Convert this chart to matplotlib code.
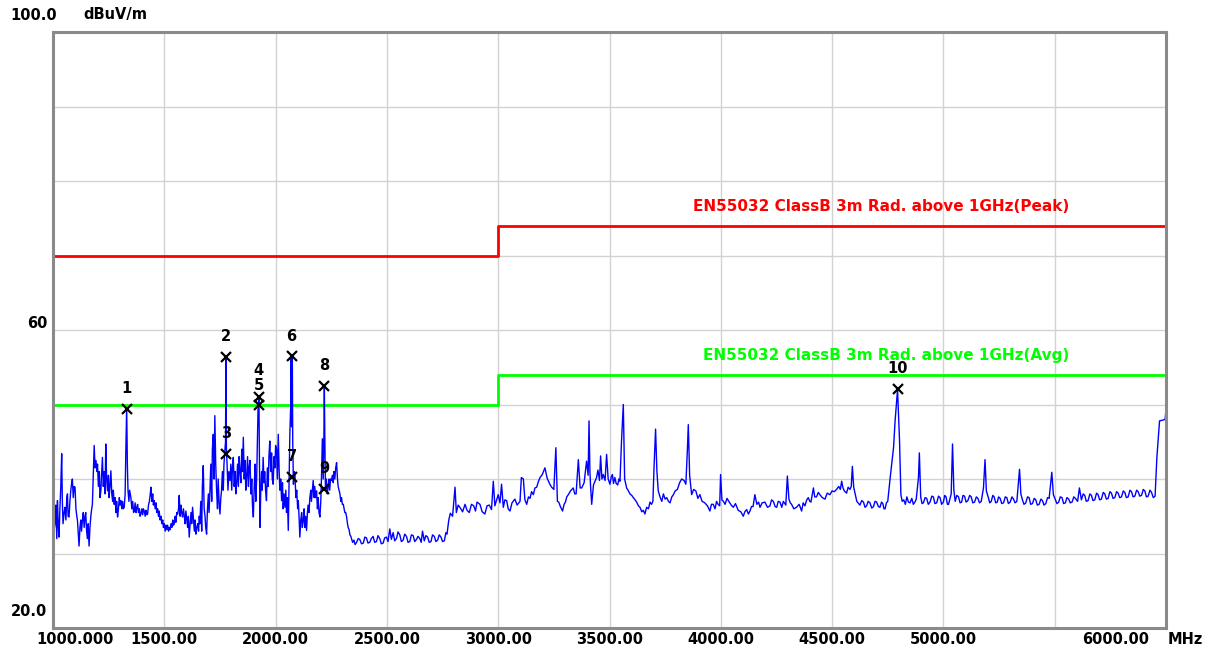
import matplotlib
matplotlib.use("Agg")
import matplotlib.pyplot as plt

trace_a = [
    (1000, 35.3), (1004, 33.0), (1009, 34.0), (1013, 36.5), (1017, 32.0), (1020, 37.1), (1024, 33.5),
    (1027, 32.2), (1031, 36.0), (1035, 39.0), (1039, 43.4), (1042, 37.0), (1045, 34.0), (1050, 35.5),
    (1054, 36.2), (1058, 34.5), (1062, 37.5), (1065, 38.0), (1068, 35.0), (1072, 34.9), (1076, 37.0),
    (1080, 38.5), (1084, 39.5), (1087, 40.0), (1091, 37.5), (1095, 39.0), (1099, 38.9), (1103, 36.0),
    (1107, 35.0), (1110, 34.4), (1114, 32.5), (1117, 31.0), (1121, 33.5), (1125, 34.5), (1128, 33.0),
    (1132, 34.4), (1136, 35.5), (1140, 33.5), (1144, 35.0), (1147, 35.5), (1151, 33.0), (1155, 32.0),
    (1158, 34.0), (1162, 31.0), (1166, 33.5), (1170, 35.0), (1173, 35.8), (1177, 36.6), (1181, 40.5),
    (1185, 44.5), (1189, 41.5), (1193, 42.5), (1197, 41.0), (1200, 42.0), (1204, 39.0), (1208, 41.0),
    (1211, 37.5), (1215, 38.4), (1218, 40.5), (1222, 42.9), (1226, 39.0), (1230, 41.0), (1234, 38.0),
    (1237, 44.7), (1241, 40.0), (1245, 38.4), (1249, 40.5), (1252, 37.5), (1256, 39.0), (1260, 41.1),
    (1264, 38.0), (1268, 37.0), (1271, 38.5), (1275, 36.6), (1279, 37.5), (1283, 35.5), (1286, 37.0),
    (1290, 34.9), (1294, 36.0), (1298, 37.5), (1301, 36.5), (1305, 37.1), (1309, 36.0), (1313, 37.0),
    (1316, 36.0), (1320, 36.2), (1324, 38.0), (1327, 43.4), (1331, 49.6), (1334, 42.0), (1337, 38.4),
    (1341, 37.0), (1344, 38.5), (1350, 37.5), (1354, 36.0), (1358, 37.0), (1362, 35.5), (1365, 35.7),
    (1369, 36.8), (1373, 35.5), (1377, 36.2), (1380, 36.6), (1384, 35.5), (1388, 36.0), (1391, 35.0),
    (1395, 35.3), (1399, 36.0), (1403, 35.2), (1406, 36.0), (1410, 35.7), (1414, 35.0), (1418, 35.8),
    (1421, 35.2), (1425, 35.3), (1429, 36.5), (1433, 37.0), (1437, 38.0), (1440, 38.9), (1444, 37.0),
    (1448, 38.0), (1451, 36.5), (1455, 37.1), (1459, 36.0), (1463, 36.8), (1466, 35.5), (1470, 36.0),
    (1474, 35.0), (1477, 35.7), (1481, 34.5), (1485, 35.0), (1489, 34.0), (1493, 34.5), (1496, 33.5),
    (1500, 34.0), (1504, 33.0), (1508, 33.8), (1511, 33.2), (1515, 33.8), (1519, 33.0), (1522, 33.5),
    (1526, 33.2), (1530, 34.0), (1534, 33.5), (1538, 34.5), (1541, 33.8), (1545, 34.0), (1549, 35.0),
    (1552, 34.2), (1556, 35.5), (1560, 35.3), (1564, 36.0), (1567, 37.8), (1571, 35.0), (1575, 36.5),
    (1578, 35.5), (1582, 34.9), (1586, 36.0), (1590, 35.0), (1593, 34.0), (1597, 35.7), (1601, 34.5),
    (1605, 33.5), (1608, 35.0), (1612, 32.2), (1616, 34.0), (1620, 35.5), (1623, 34.0), (1627, 36.2),
    (1631, 34.5), (1635, 33.0), (1638, 34.5), (1642, 32.6), (1646, 33.5), (1650, 34.0), (1654, 33.0),
    (1657, 35.0),
]
trace_b = [
    (1660, 34.0), (1664, 37.0), (1668, 33.0), (1671, 39.0), (1675, 41.8), (1679, 36.0), (1683, 35.0),
    (1686, 33.5), (1690, 32.6), (1694, 36.0), (1698, 38.0), (1701, 35.5), (1705, 38.4), (1709, 42.0),
    (1713, 37.0), (1716, 44.0), (1720, 46.0), (1724, 40.0), (1727, 48.5), (1731, 42.0), (1735, 38.4),
    (1739, 36.0), (1742, 40.0), (1746, 37.0), (1750, 35.3), (1754, 37.5), (1757, 38.4), (1761, 41.0),
    (1765, 38.5), (1768, 42.0), (1772, 43.8), (1775, 45.0), (1777, 56.4), (1779, 44.0), (1782, 42.0),
    (1786, 38.5), (1790, 41.0), (1795, 39.8), (1799, 42.0), (1803, 38.5), (1806, 41.5), (1810, 42.9),
    (1814, 39.0), (1818, 41.0), (1821, 38.0), (1825, 39.3), (1829, 42.0), (1833, 39.0), (1836, 43.0),
    (1840, 41.1), (1844, 39.5), (1848, 44.0), (1851, 41.0), (1855, 45.6), (1859, 40.0), (1863, 42.5),
    (1866, 38.5), (1870, 40.2), (1874, 43.0), (1878, 39.0), (1881, 41.5), (1885, 42.5), (1889, 38.0),
    (1893, 40.0), (1896, 36.5), (1900, 34.9), (1904, 39.0), (1908, 42.0), (1911, 37.0), (1915, 40.2),
    (1918, 45.0), (1921, 49.2), (1925, 51.0), (1927, 44.0), (1930, 33.5), (1933, 38.0), (1937, 41.0),
    (1940, 38.5), (1944, 42.9), (1948, 39.5), (1951, 41.0), (1955, 38.5), (1959, 37.1), (1963, 41.5),
    (1967, 39.0), (1970, 43.0), (1974, 45.1), (1978, 41.0), (1982, 43.5), (1985, 40.0), (1989, 39.3),
    (1993, 43.0), (1997, 41.5), (2000, 44.5), (2004, 44.0), (2008, 40.0), (2012, 46.0), (2016, 41.0),
    (2019, 38.5), (2023, 40.0), (2027, 37.1), (2031, 39.5), (2034, 36.0), (2038, 38.0), (2042, 36.2),
    (2046, 38.5), (2049, 35.5), (2053, 37.5), (2057, 33.1), (2061, 40.0), (2064, 46.0), (2068, 50.0),
    (2070, 56.5), (2072, 47.0), (2075, 56.5), (2077, 45.0), (2080, 39.3), (2084, 41.0), (2087, 40.5),
    (2091, 37.5), (2095, 38.5), (2099, 36.0), (2102, 37.1), (2106, 34.5), (2109, 32.2), (2113, 34.5),
    (2117, 35.5), (2120, 33.5), (2124, 34.4), (2128, 36.0), (2131, 33.5), (2135, 35.0), (2139, 33.1),
    (2143, 35.5), (2146, 36.5), (2150, 35.5), (2154, 37.5), (2158, 38.5), (2161, 37.0), (2165, 38.5),
    (2169, 39.8), (2173, 37.5), (2176, 39.0), (2180, 37.5), (2184, 38.4), (2188, 36.0), (2191, 37.5),
    (2195, 35.5), (2199, 34.9), (2203, 37.0), (2206, 40.0), (2210, 45.4), (2214, 40.0), (2217, 46.0),
    (2219, 52.5), (2221, 46.0), (2224, 38.6), (2228, 40.0), (2232, 38.0), (2236, 38.9), (2240, 40.0),
    (2243, 38.5), (2247, 40.0), (2251, 39.8), (2255, 40.5), (2259, 39.5), (2262, 41.0), (2266, 40.0),
    (2270, 41.5), (2274, 42.2), (2278, 40.0), (2281, 39.0), (2285, 38.5), (2289, 38.0), (2293, 37.0),
    (2296, 37.5), (2300, 36.6), (2304, 36.6), (2308, 36.0), (2311, 35.5), (2315, 35.5), (2319, 34.9),
    (2323, 34.0), (2326, 33.5), (2330, 33.2), (2334, 32.5), (2338, 32.3), (2341, 32.0), (2346, 31.5),
    (2352, 31.8), (2357, 31.2),
]
trace_c = [
    (2364, 31.5), (2371, 32.0), (2378, 31.9), (2386, 31.3), (2394, 31.4), (2401, 32.2), (2408, 32.1),
    (2415, 31.4), (2423, 31.5), (2430, 32.0), (2438, 32.3), (2445, 31.5), (2453, 31.6), (2460, 32.4),
    (2468, 32.0), (2475, 31.3), (2483, 31.4), (2490, 32.1), (2498, 32.2), (2505, 31.6), (2513, 33.3),
    (2520, 31.9), (2528, 32.8), (2535, 31.7), (2543, 32.0), (2550, 32.9), (2558, 32.5), (2565, 31.6),
    (2573, 31.8), (2580, 32.6), (2588, 32.3), (2595, 31.5), (2603, 31.6), (2610, 32.5), (2618, 32.4),
    (2625, 31.6), (2633, 31.9), (2640, 32.3), (2648, 32.0), (2654, 31.5), (2660, 33.0), (2668, 31.7),
    (2675, 32.4), (2683, 32.2), (2690, 31.5), (2698, 31.6), (2705, 32.5), (2713, 32.3), (2720, 31.6),
    (2728, 31.8), (2735, 32.5), (2743, 32.2), (2750, 31.6), (2758, 31.7), (2765, 32.8), (2770, 32.6),
    (2778, 34.5), (2785, 35.4), (2795, 35.0), (2806, 38.9), (2812, 35.5), (2820, 36.5), (2828, 36.2),
    (2840, 35.6), (2851, 36.6), (2860, 35.8), (2870, 35.5), (2880, 36.6), (2890, 36.4), (2898, 35.7),
    (2905, 36.9),
]
trace_d = [
    (2918, 36.6), (2928, 35.6), (2940, 35.3), (2950, 36.4), (2960, 36.5), (2970, 35.9), (2978, 39.7),
    (2985, 36.4), (3000, 37.9), (3008, 36.8), (3015, 39.3), (3023, 36.2), (3030, 37.2), (3038, 37.1),
    (3045, 36.0), (3053, 35.7), (3062, 36.8), (3075, 37.3), (3085, 36.5), (3098, 37.0), (3104, 40.2),
    (3113, 40.0), (3120, 37.2), (3128, 36.6), (3136, 37.6), (3143, 37.4), (3150, 38.3), (3158, 37.9),
    (3165, 38.8), (3173, 38.9), (3180, 39.6), (3188, 40.2), (3198, 40.6), (3210, 41.5), (3220, 40.1),
    (3232, 39.3), (3240, 38.9), (3250, 38.6), (3259, 44.2), (3266, 37.0), (3272, 36.9), (3278, 36.4),
    (3284, 36.0), (3289, 35.7), (3296, 36.6), (3302, 36.9), (3308, 37.6), (3315, 37.9), (3325, 38.4),
    (3337, 38.8), (3344, 38.0), (3350, 38.0), (3360, 42.6), (3368, 38.8), (3375, 38.8), (3386, 39.5),
    (3397, 42.4), (3404, 40.5), (3408, 47.8), (3412, 41.0), (3415, 39.0), (3420, 36.6), (3428, 39.2),
    (3435, 39.7), (3442, 40.2), (3448, 41.2), (3455, 39.8), (3460, 43.1), (3466, 40.0), (3472, 40.6),
    (3480, 39.8), (3487, 43.3), (3494, 40.0), (3502, 39.3), (3508, 40.3), (3513, 40.6), (3518, 39.4),
    (3524, 40.2), (3530, 39.4), (3537, 39.2), (3542, 40.0), (3547, 39.7), (3554, 45.1), (3562, 50.0),
    (3568, 40.0), (3577, 38.8), (3585, 38.4), (3592, 38.0), (3600, 37.8), (3607, 37.5), (3615, 37.2),
    (3622, 36.9), (3630, 36.4), (3637, 36.2), (3645, 35.6), (3652, 35.8), (3659, 35.3), (3667, 36.2),
    (3675, 36.0), (3682, 36.9), (3689, 36.6), (3695, 37.0), (3700, 41.5), (3707, 46.7), (3713, 41.0),
    (3719, 38.4), (3727, 37.6), (3735, 37.0), (3742, 38.0), (3750, 37.3), (3757, 37.5), (3765, 37.0),
    (3772, 36.8), (3780, 37.6), (3787, 37.9), (3795, 38.4), (3805, 38.6), (3815, 39.5), (3824, 40.0),
    (3835, 39.8), (3843, 39.3), (3850, 44.0), (3854, 47.3), (3860, 40.5), (3869, 37.9), (3878, 38.6),
    (3888, 38.4), (3897, 37.4), (3906, 37.9), (3916, 37.0), (3928, 36.8), (3940, 36.4), (3951, 35.7),
    (3958, 36.6), (3966, 36.6), (3974, 36.0), (3981, 37.0), (3988, 36.6), (3995, 36.4), (3999, 40.6),
    (4005, 37.2), (4012, 37.0), (4019, 36.6), (4028, 37.4), (4038, 36.9), (4047, 36.5), (4056, 36.2),
    (4066, 36.7), (4078, 35.8), (4090, 35.6), (4101, 35.0), (4108, 35.6), (4116, 35.9), (4124, 35.3),
    (4131, 35.7), (4138, 36.3), (4145, 36.3), (4153, 37.9), (4162, 36.6), (4170, 36.9), (4176, 36.2),
    (4186, 36.8), (4198, 36.9), (4210, 36.2), (4221, 36.4), (4228, 37.2), (4236, 37.0), (4244, 36.3),
    (4251, 36.2), (4258, 37.0), (4266, 36.9), (4274, 36.2), (4281, 37.0), (4292, 36.5), (4299, 40.4),
    (4306, 37.3), (4312, 36.8), (4318, 36.6), (4328, 36.0), (4340, 36.2), (4352, 36.6), (4363, 35.7),
    (4370, 36.8), (4378, 36.4), (4386, 37.2), (4393, 37.5), (4400, 37.0), (4405, 36.9), (4416, 38.8),
    (4422, 37.6), (4430, 37.6), (4438, 38.2), (4445, 37.9), (4456, 37.5), (4468, 37.3), (4478, 38.1),
    (4490, 37.9), (4500, 38.4), (4510, 38.3), (4520, 38.6), (4530, 39.0), (4537, 38.6), (4543, 39.7),
    (4549, 38.8), (4555, 38.4), (4565, 38.1), (4572, 38.9), (4580, 38.6), (4586, 39.0), (4591, 41.7),
    (4597, 38.9),
]
trace_e = [
    (4611, 37.0), (4625, 36.5), (4633, 37.1), (4641, 36.9), (4648, 36.2), (4655, 36.4), (4662, 37.0),
    (4670, 36.8), (4678, 36.1), (4686, 36.3), (4693, 37.0), (4700, 36.9), (4708, 36.3), (4715, 36.2),
    (4722, 36.9), (4728, 36.7), (4733, 36.0), (4738, 36.0), (4744, 36.8), (4750, 37.0), (4761, 40.2),
    (4776, 44.2), (4783, 47.8), (4794, 52.0), (4803, 45.1), (4809, 37.9), (4815, 37.0), (4822, 37.2),
    (4829, 36.6), (4836, 37.6), (4843, 36.9), (4850, 36.8), (4858, 37.4), (4865, 36.6), (4872, 36.9),
    (4878, 37.3), (4888, 40.2), (4892, 43.5), (4898, 37.6), (4904, 36.7), (4910, 36.8), (4918, 37.5),
    (4925, 37.4), (4932, 36.6), (4940, 36.9), (4948, 37.7), (4955, 37.6), (4962, 36.7), (4970, 36.8),
    (4978, 37.7), (4985, 37.5), (4992, 36.6), (5000, 36.9), (5006, 37.8), (5012, 37.6), (5018, 36.6),
    (5023, 36.6), (5035, 38.0), (5041, 44.7), (5047, 38.5), (5053, 37.0), (5060, 37.8), (5068, 37.6),
    (5075, 36.8), (5082, 36.9), (5088, 37.8), (5095, 37.7), (5102, 36.9), (5110, 37.1), (5118, 37.8),
    (5125, 37.6), (5132, 36.8), (5140, 36.9), (5148, 37.6), (5155, 37.4), (5162, 36.8), (5170, 37.0),
    (5180, 38.8), (5187, 42.6), (5193, 38.4), (5202, 37.5), (5208, 36.8), (5215, 37.0), (5222, 37.8),
    (5228, 37.6), (5235, 36.8), (5242, 36.9), (5248, 37.6), (5255, 37.4), (5262, 36.7), (5270, 36.8),
    (5278, 37.6), (5285, 37.5), (5292, 36.7), (5300, 36.9), (5308, 37.6), (5315, 37.3), (5322, 36.8),
    (5330, 37.0), (5342, 41.3), (5348, 38.0), (5355, 37.2), (5362, 36.6), (5370, 36.8), (5378, 37.6),
    (5385, 37.5), (5392, 36.6), (5400, 36.7), (5408, 37.4), (5415, 37.2), (5422, 36.5), (5430, 36.6),
    (5438, 37.3), (5445, 37.1), (5452, 36.5), (5460, 36.7), (5468, 37.5), (5475, 37.4), (5487, 40.9),
    (5494, 37.9), (5502, 37.3), (5510, 36.7), (5518, 36.9), (5525, 37.6), (5533, 37.5), (5540, 36.7),
    (5548, 36.8), (5555, 37.5), (5563, 37.3), (5570, 36.8), (5578, 36.9), (5586, 37.6), (5593, 37.4),
    (5603, 37.0), (5611, 38.8), (5620, 37.2), (5628, 38.0), (5635, 37.8), (5642, 37.0), (5650, 37.1),
    (5658, 38.0), (5665, 37.8), (5672, 37.1), (5680, 37.2), (5688, 38.1), (5695, 37.9), (5702, 37.2),
    (5710, 37.3), (5718, 38.2), (5725, 38.0), (5732, 37.3), (5740, 37.4), (5748, 38.3), (5755, 38.1),
    (5762, 37.4), (5770, 37.5), (5778, 38.3), (5785, 38.1), (5792, 37.5), (5800, 37.6), (5808, 38.4),
    (5815, 38.2), (5822, 37.5), (5830, 37.6), (5838, 38.5), (5845, 38.3), (5852, 37.6), (5860, 37.7),
    (5868, 38.5), (5875, 38.3), (5882, 37.7), (5890, 37.8), (5898, 38.6), (5905, 38.4), (5912, 37.6),
    (5920, 37.7), (5928, 38.5), (5935, 38.2), (5943, 37.5), (5951, 37.7), (5959, 42.9), (5971, 47.8),
    (5985, 47.9), (5996, 48.0), (6000, 49.4),
]
freq, level = zip(*(trace_a + trace_b + trace_c + trace_d + trace_e))

# === Limit lines (EN55032 Class B, 3m, above 1GHz) ===
limit_freq = [1000, 3000, 3000, 6000]
peak_limit = [70, 70, 74, 74]
avg_limit = [50, 50, 54, 54]
peak_label = "EN55032 ClassB 3m Rad. above 1GHz(Peak)"
avg_label = "EN55032 ClassB 3m Rad. above 1GHz(Avg)"

# === Markers ===
marker_no = [1, 2, 3, 4, 5, 6, 7, 8, 9, 10]
marker_freq = [1331, 1777, 1777, 1925, 1925, 2072, 2072, 2219, 2219, 4794]
marker_level = [49.4, 56.4, 43.4, 51.0, 49.9, 56.5, 40.3, 52.5, 38.7, 52.1]

# === Axis labels ===
x_grid = [1000, 1500, 2000, 2500, 3000, 3500, 4000, 4500, 5000, 5500, 6000]
x_label_vals = [1000, 1500, 2000, 2500, 3000, 3500, 4000, 4500, 5000, 6000]
x_label_text = ["1000.000", "1500.00", "2000.00", "2500.00", "3000.00",
                "3500.00", "4000.00", "4500.00", "5000.00", "6000.00"]
y_grid = [20, 30, 40, 50, 60, 70, 80, 90, 100]

W, H = 1212, 652
fig = plt.figure(figsize=(W / 100, H / 100), dpi=100)
ax = fig.add_axes([53 / W, 24 / H, 1113 / W, 596 / H])

txt = dict(fontsize=10.5, fontweight="bold", family="DejaVu Sans")

ax.set_xlim(1000, 6000)
ax.set_ylim(20, 100)
ax.set_xticks(x_grid)
ax.set_yticks(y_grid)
ax.tick_params(length=0, labelbottom=False, labelleft=False)
ax.grid(True, color="#d2d2d2", lw=1.0)
ax.set_axisbelow(True)
for sp in ax.spines.values():
    sp.set_color("#8a8a8a")
    sp.set_linewidth(2.2)

# limits
ax.plot(limit_freq, peak_limit, color="#ff0000", lw=2.0)
ax.plot(limit_freq, avg_limit, color="#00ff00", lw=2.0)
lim_txt = dict(txt, fontsize=11)
ax.text(5565, peak_limit[-1] + 2.6, peak_label, color="#ff0000", ha="right", va="center", **lim_txt)
ax.text(5565, avg_limit[-1] + 2.6, avg_label, color="#00ff00", ha="right", va="center", **lim_txt)

# trace
ax.plot(freq, level, color="#0000ff", lw=1.0)

# markers
ax.plot(marker_freq, marker_level, ls="none", marker="x", ms=7.5, mew=1.6, color="black")
for n, f, v in zip(marker_no, marker_freq, marker_level):
    dy = 27 if n == 4 else 20   # 4 and 5 share a frequency, stack their numbers
    ax.annotate(str(n), xy=(f, v), xytext=(0, dy), textcoords="offset pixels",
                ha="center", va="center", color="black", **txt)

# x labels, first and last shifted like the analyser print-out
for f, s in zip(x_label_vals, x_label_text):
    dx = 0
    if f == 1000:
        dx = 22
    elif f == 6000:
        dx = -50
    ax.annotate(s, xy=(f, 0), xycoords=("data", "axes fraction"), xytext=(dx, -12),
                textcoords="offset pixels", ha="center", va="center", **txt)
fig.text(1185 / W, 1 - 640 / H, "MHz", ha="center", va="center", **txt)

# y labels
fig.text(57 / W, 1 - 15 / H, "100.0", ha="right", va="center", **txt)
fig.text(83 / W, 1 - 15 / H, "dBuV/m", ha="left", va="center", **txt)
fig.text(47 / W, 1 - 324 / H, "60", ha="right", va="center", **txt)
fig.text(47 / W, 1 - 612 / H, "20.0", ha="right", va="center", **txt)

fig.savefig("out.png", dpi=100, facecolor="white")
